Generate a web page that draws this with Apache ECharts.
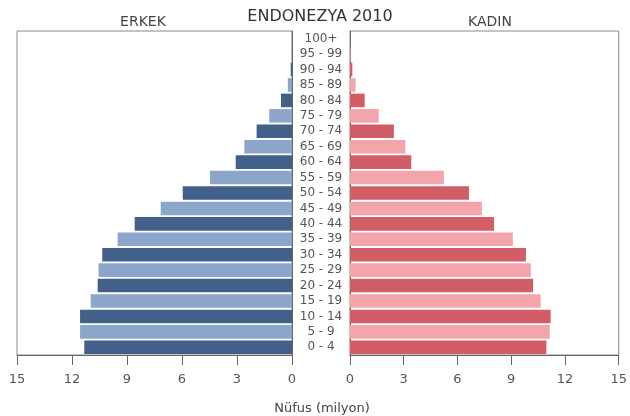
<!DOCTYPE html>
<html><head><meta charset="utf-8">
<script src="https://cdn.jsdelivr.net/npm/echarts@6/dist/echarts.min.js"></script>
<style>html,body{margin:0;padding:0;background:#fff}#c{width:630px;height:416px}</style>
</head><body><div id="c"></div>
<script>
const ageGroups = ['0 - 4','5 - 9','10 - 14','15 - 19','20 - 24','25 - 29','30 - 34','35 - 39','40 - 44','45 - 49','50 - 54','55 - 59','60 - 64','65 - 69','70 - 74','75 - 79','80 - 84','85 - 89','90 - 94','95 - 99','100+'];
const male   = [11.33,11.56,11.56,10.98,10.6,10.55,10.35,9.51,8.58,7.16,5.96,4.47,3.07,2.6,1.93,1.24,0.6,0.23,0.07,0.02,0.005];
const female = [10.96,11.15,11.2,10.64,10.22,10.09,9.82,9.09,8.04,7.36,6.64,5.24,3.42,3.09,2.45,1.6,0.82,0.31,0.13,0.03,0.01];
const xTicks = [0,3,6,9,12,15];

const maleColors = ['#42608a','#8ca5ca'];
const femaleColors = ['#d25d67','#f4a4ab'];
const font = 'DejaVu Sans';
const chart = echarts.init(document.getElementById('c'));
const xAxisCommon = {
  type:'value', min:xTicks[0], max:xTicks[xTicks.length-1], interval:xTicks[1]-xTicks[0],
  axisLine:{show:true,lineStyle:{color:'#666'}},
  axisTick:{show:true,length:10,lineStyle:{color:'#666'}},
  axisLabel:{color:'#555',fontSize:13,fontFamily:font,margin:18},
  splitLine:{show:false}
};
chart.setOption({
  animation:false,
  title:[
    {text:'ENDONEZYA 2010',left:315,top:4,textAlign:'center',textStyle:{fontSize:16,fontWeight:'normal',color:'#333',fontFamily:font}},
    {text:'ERKEK',left:138,top:10,textAlign:'center',textStyle:{fontSize:14,fontWeight:'normal',color:'#444',fontFamily:font}},
    {text:'KADIN',left:485,top:10,textAlign:'center',textStyle:{fontSize:14,fontWeight:'normal',color:'#444',fontFamily:font}},
    {text:'Nüfus (milyon)',left:317,top:397,textAlign:'center',textStyle:{fontSize:13,fontWeight:'normal',color:'#444',fontFamily:font}}
  ],
  grid:[
    {left:17,right:338,top:31,bottom:61,show:true,borderColor:'#888',borderWidth:1},
    {left:350,right:6,top:31,bottom:61,show:true,borderColor:'#888',borderWidth:1}
  ],
  xAxis:[
    Object.assign({gridIndex:0,inverse:true},xAxisCommon),
    Object.assign({gridIndex:1},xAxisCommon)
  ],
  yAxis:[
    {type:'category',gridIndex:0,data:ageGroups,position:'right',axisLine:{show:true,lineStyle:{color:'#666'}},axisTick:{show:false},axisLabel:{show:false}},
    {type:'category',gridIndex:1,data:ageGroups,position:'left',axisLine:{show:true,lineStyle:{color:'#666'}},axisTick:{show:false},
     axisLabel:{show:true,align:'center',margin:29,color:'#555',fontSize:12,fontFamily:font,interval:0}}
  ],
  series:[
    {type:'bar',xAxisIndex:0,yAxisIndex:0,data:male,barCategoryGap:'12%',
     itemStyle:{color:p=>maleColors[p.dataIndex%2]}},
    {type:'bar',xAxisIndex:1,yAxisIndex:1,data:female,barCategoryGap:'12%',
     itemStyle:{color:p=>femaleColors[p.dataIndex%2]}}
  ]
});
</script></body></html>
